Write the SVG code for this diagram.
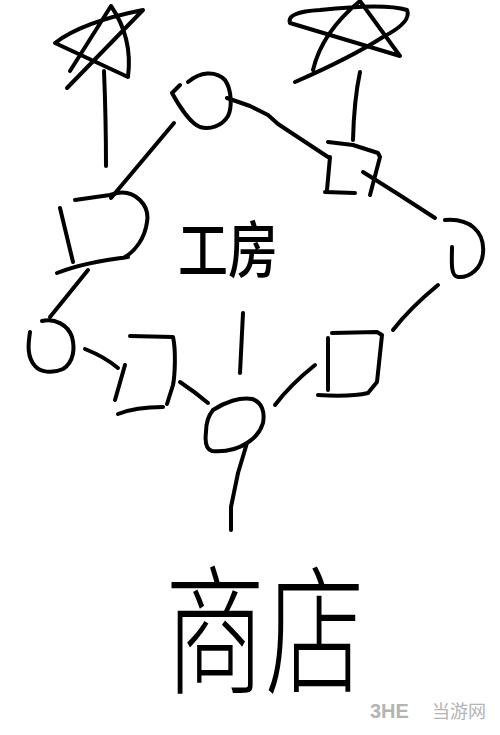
<svg xmlns="http://www.w3.org/2000/svg" width="500" height="735" viewBox="0 0 500 735">
<style>
.s{fill:none;stroke:#000;stroke-width:4;stroke-linecap:round;stroke-linejoin:round}
.t{font-family:"Noto Sans CJK SC","Noto Sans CJK JP",sans-serif;fill:#000}
.w{font-family:"Liberation Sans","Noto Sans CJK SC",sans-serif;fill:#b4b4b4}
</style>
<rect width="500" height="735" fill="#fff"/>
<g id="star-left"><path class="s" d="M70,71 L111,6 Q133,38 128,77 L55,43 Q82,22 143,10 L67,88"/></g>
<g id="star-right"><path class="s" d="M313,70 Q322,32 360,1 L400,56 L290,23 Q286,12 320,10 Q385,3 407,10 Q412,22 383,37 Q350,58 295,82"/></g>
<g id="node-top"><path class="s" d="M188,82 C200,72 215,70 225,80 C232,90 232,108 228,116 C222,126 210,130 200,127 C190,123 178,104 172,93 L180,85"/></g>
<g id="node-left-top"><path class="s" d="M75,200 L110,195 L117,193 C135,190 150,205 147,222 C145,238 135,252 123,258 M60,208 L73,262 M57,273 C75,266 95,261 128,257"/></g>
<g id="node-left"><path class="s" d="M42,321 C55,318 68,325 72,337 C75,348 74,362 63,369 C52,374 40,372 35,366 C27,357 28,345 30,332"/></g>
<g id="node-left-bottom"><path class="s" d="M130,336 L173,337 C176,350 175,375 173,385 L167,404 M125,365 L115,400 M118,414 C128,410 140,407 163,407"/></g>
<g id="node-center"><path class="s" d="M213,410 C225,402 240,397 252,399 C262,402 265,412 263,423 C260,433 252,440 247,443 C238,449 225,452 212,451 C205,449 205,440 206,432 C206,423 208,416 213,410 M247,443 L238,473 L231,507 L231,530"/></g>
<g id="node-right-top"><path class="s" d="M328,142 L353,145 L378,153 L380,157 L370,195 M330,157 L327,190 M325,192 L355,193"/></g>
<g id="node-right"><path class="s" d="M445,220 C470,218 485,232 483,253 C482,268 470,278 458,277 C450,276 452,260 452,247"/></g>
<g id="node-right-bottom"><path class="s" d="M332,333 L377,332 L382,335 L377,382 L368,393 C355,396 335,396 318,395 M328,338 L328,390"/></g>
<g id="connectors">
<path class="s" d="M104,71 Q106,120 106,166"/>
<path class="s" d="M360,72 Q354,100 353,140"/>
<path class="s" d="M174,123 L111,198"/>
<path class="s" d="M227,98 L250,106 L268,115 L278,124 L328,157"/>
<path class="s" d="M363,172 Q400,195 435,218"/>
<path class="s" d="M88,270 L50,317"/>
<path class="s" d="M85,349 Q105,357 118,368"/>
<path class="s" d="M180,382 Q195,392 208,403"/>
<path class="s" d="M243,313 L240,373"/>
<path class="s" d="M315,365 Q290,385 275,405"/>
<path class="s" d="M438,285 Q410,308 393,330"/>
</g>
<g id="label-workshop"><text class="t" transform="translate(178,273) scale(1,1.25)" font-size="50" font-weight="500">工房</text></g>
<g id="label-shop"><text class="t" transform="translate(165,683) scale(1,1.4)" font-size="100" font-weight="300">商店</text></g>
<g id="watermark"><text class="w" x="370" y="718" font-size="20" font-weight="bold">3HE</text><text class="w" x="432" y="718" font-size="18">当游网</text></g>
</svg>
